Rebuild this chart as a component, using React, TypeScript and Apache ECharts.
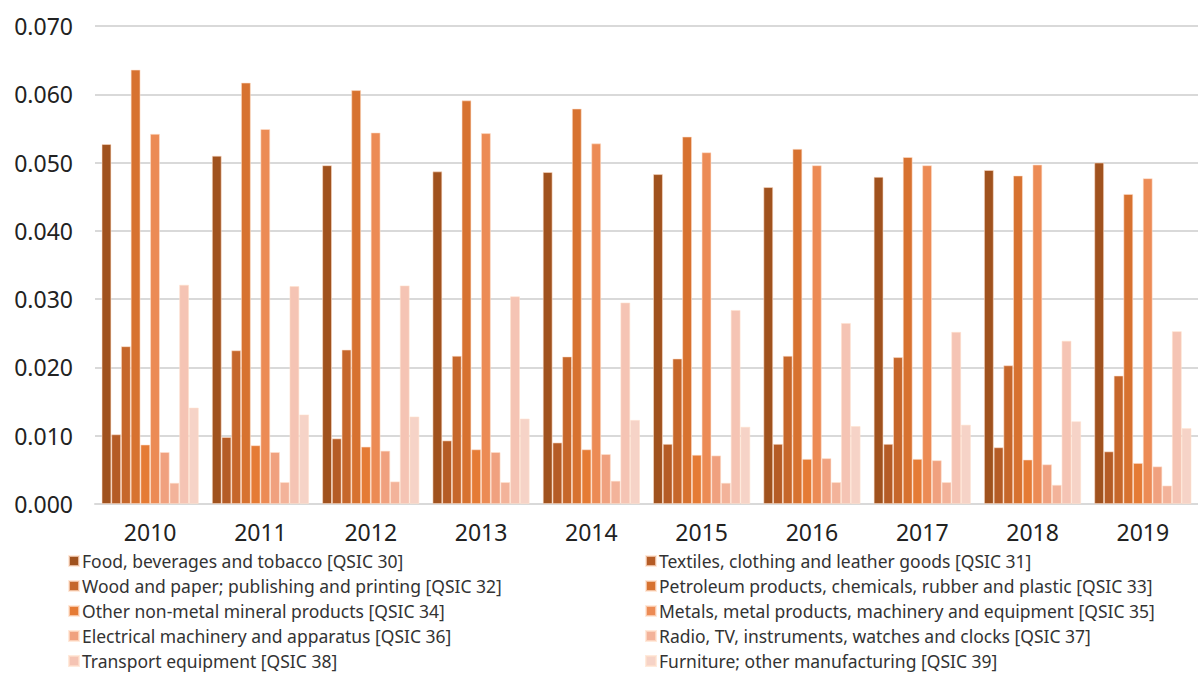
import React, { useEffect, useRef } from "react";
import * as echarts from "echarts";

const years = ["2010", "2011", "2012", "2013", "2014", "2015", "2016", "2017", "2018", "2019"];

const seriesNames = [
  "Food, beverages and tobacco [QSIC 30]",
  "Textiles, clothing and leather goods [QSIC 31]",
  "Wood and paper; publishing and printing [QSIC 32]",
  "Petroleum products, chemicals, rubber and plastic [QSIC 33]",
  "Other non-metal mineral products [QSIC 34]",
  "Metals, metal products, machinery and equipment [QSIC 35]",
  "Electrical machinery and apparatus [QSIC 36]",
  "Radio, TV, instruments, watches and clocks [QSIC 37]",
  "Transport equipment [QSIC 38]",
  "Furniture; other manufacturing [QSIC 39]",
];

const colors = ["#A0521E", "#B55C26", "#C6672B", "#D77230", "#E57B35", "#EC8B55", "#F0A17F", "#F3B39A", "#F5C4B4", "#F6D3C7"];

const qsic30 = [0.0527, 0.0510, 0.0496, 0.0487, 0.0486, 0.0483, 0.0464, 0.0479, 0.0489, 0.0500];
const qsic31 = [0.0102, 0.0098, 0.0096, 0.0093, 0.0090, 0.0088, 0.0088, 0.0088, 0.0083, 0.0077];
const qsic32 = [0.0231, 0.0225, 0.0226, 0.0217, 0.0216, 0.0213, 0.0217, 0.0215, 0.0203, 0.0188];
const qsic33 = [0.0636, 0.0617, 0.0606, 0.0591, 0.0579, 0.0538, 0.0520, 0.0508, 0.0481, 0.0454];
const qsic34 = [0.0087, 0.0086, 0.0084, 0.0080, 0.0080, 0.0072, 0.0066, 0.0066, 0.0065, 0.0060];
const qsic35 = [0.0542, 0.0549, 0.0544, 0.0543, 0.0528, 0.0515, 0.0496, 0.0496, 0.0497, 0.0477];
const qsic36 = [0.0076, 0.0076, 0.0078, 0.0076, 0.0073, 0.0071, 0.0067, 0.0064, 0.0058, 0.0055];
const qsic37 = [0.0031, 0.0032, 0.0033, 0.0032, 0.0034, 0.0031, 0.0032, 0.0032, 0.0028, 0.0027];
const qsic38 = [0.0321, 0.0319, 0.0320, 0.0304, 0.0295, 0.0284, 0.0265, 0.0252, 0.0239, 0.0253];
const qsic39 = [0.0141, 0.0131, 0.0128, 0.0125, 0.0123, 0.0113, 0.0114, 0.0116, 0.0121, 0.0111];

const allValues = [qsic30, qsic31, qsic32, qsic33, qsic34, qsic35, qsic36, qsic37, qsic38, qsic39];

const yTicks = [0, 0.01, 0.02, 0.03, 0.04, 0.05, 0.06, 0.07];

const FONT = "'Noto Sans', sans-serif";

export default function App() {
  const ref = useRef<HTMLDivElement>(null);
  useEffect(() => {
    if (!ref.current) return;
    const chart = echarts.init(ref.current, undefined, { renderer: "svg" });
    const legendBase = {
      orient: "vertical" as const,
      itemWidth: 10,
      itemHeight: 10,
      itemGap: 5,
      icon: "rect",
      textStyle: { fontSize: 17.5, color: "#333", fontFamily: FONT, lineHeight: 20, padding: [0, 0, 0, -2] },
      padding: 0,
      selectedMode: false,
    };
    chart.setOption({
      animation: false,
      color: colors,
      textStyle: { fontFamily: FONT },
      grid: { left: 95, right: 0, top: 26, bottom: 169 },
      legend: [
        { ...legendBase, left: 68, top: 551, data: seriesNames.filter((_, i) => i % 2 === 0) },
        { ...legendBase, left: 645, top: 551, data: seriesNames.filter((_, i) => i % 2 === 1) },
      ],
      xAxis: {
        type: "category",
        data: years,
        axisLine: { lineStyle: { color: "#d9d9d9", width: 2 } },
        axisTick: { show: false },
        axisLabel: { fontSize: 23, color: "#222", margin: 16, fontFamily: FONT },
      },
      yAxis: {
        type: "value",
        min: yTicks[0],
        max: yTicks[yTicks.length - 1],
        interval: 0.01,
        axisLine: { show: false },
        axisTick: { show: false },
        splitLine: { lineStyle: { color: "#d9d9d9", width: 2 } },
        axisLabel: {
          fontSize: 23,
          color: "#222",
          margin: 22,
          fontFamily: FONT,
          formatter: (v: number) => v.toFixed(3),
        },
      },
      series: seriesNames.map((name, i) => ({
        name,
        type: "bar",
        data: allValues[i],
        barGap: "0%",
        barCategoryGap: "12%",
        itemStyle: { color: colors[i], borderColor: "rgba(255,225,205,0.7)", borderWidth: 0.8 },
      })),
    });
    return () => chart.dispose();
  }, []);
  return <div ref={ref} style={{ width: 1198, height: 673, position: "absolute", left: 0, top: 0 }} />;
}
